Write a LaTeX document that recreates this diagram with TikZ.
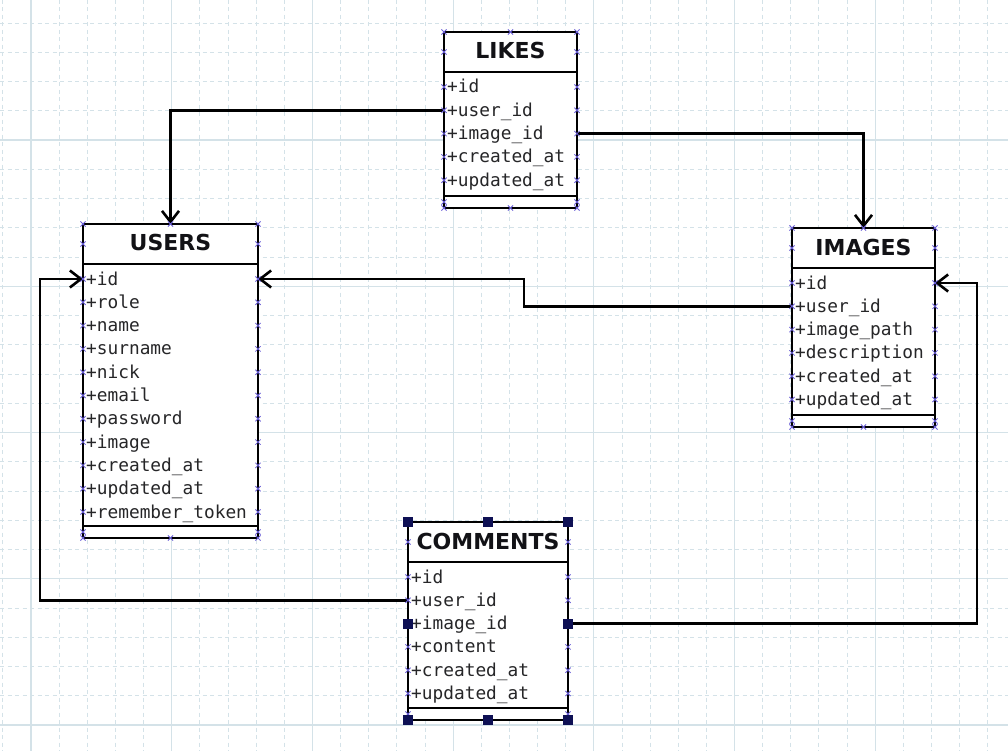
\documentclass[tikz,border=0pt]{standalone}
\usepackage{fontspec}
\setmainfont{DejaVu Sans}
\newfontfamily\fieldfont{DejaVu Sans Mono}
\usetikzlibrary{arrows.meta}

\definecolor{gridc}{RGB}{212,226,232}
\definecolor{pinc}{RGB}{104,92,214}
\definecolor{handlec}{RGB}{14,16,84}
\definecolor{inkc}{RGB}{18,18,22}
\definecolor{fieldc}{RGB}{38,38,40}

\tikzset{
  classbox/.style={draw=black, fill=white, line width=2.8pt, outer sep=0pt, inner sep=0pt},
  divider/.style={line width=2.4pt},
  classtitle/.style={font=\fontsize{22}{22}\selectfont\bfseries, text=inkc, inner sep=0pt, anchor=base},
  field/.style={font=\fieldfont\fontsize{17.8}{18}\selectfont, text=fieldc, inner sep=0pt, anchor=base west},
  link/.style={line width=2.6pt, -{Straight Barb[length=11pt,width=17pt]}},
  pin/.style={draw=pinc, line width=0.8pt},
  handle/.style={fill=handlec, draw=handlec, minimum size=9pt, inner sep=0pt, outer sep=0pt},
  minorgrid/.style={draw=gridc, line width=0.9pt, dash pattern=on 4pt off 3.5pt},
  majorgrid/.style={draw=gridc, line width=1.1pt},
  pinx/.pic={\draw[pin] (-2.6,-2.6) -- (2.6,2.6) (-2.6,2.6) -- (2.6,-2.6);}
}

% \erclass{name}{left}{top}{right}{bottom}{title}{fields}
\newcommand\erclass[7]{%
  \node[classbox, anchor=north west, minimum width={(#4-#2)*1pt},
        minimum height={(#5-#3)*1pt}] (#1) at (#2,#3) {};
  \draw[divider] (#2,#3+40) -- (#4,#3+40);
  \draw[divider] (#2,#5-12) -- (#4,#5-12);
  \node[classtitle] (#1-title) at ({(#2+#4)/2},#3+27) {#6};
  \foreach \f [count=\i] in {#7} {
    \node[field] (#1-f\i) at ({#2+3},{#3+61+23.3*(\i-1)}) {+\f};
    \coordinate (#1-w\i) at (#2,{#3+55+23.3*(\i-1)});
    \coordinate (#1-e\i) at (#4,{#3+55+23.3*(\i-1)});
  }
}

% connection points along the class outline: {left}{top}{right}{bottom}{number of fields}
\newcommand\erpins[5]{%
  \foreach \yy in {#2, #2+20, #4-6, #4}
    \foreach \xx in {#1, #3} \pic at ({\xx},{\yy}) {pinx};
  \foreach \i in {1,...,#5}
    \foreach \xx in {#1, #3} \pic at ({\xx},{#2+55+23.3*(\i-1)}) {pinx};
  \pic at ({(#1+#3)/2},#2) {pinx};
  \pic at ({(#1+#3)/2},#4) {pinx};
}

\begin{document}
\begin{tikzpicture}[x=1pt, y=-1pt]
\useasboundingbox (0,0) rectangle (1008,751);
\fill[white] (0,0) rectangle (1008,751);

% background grid
\begin{scope}
  \clip (0,0) rectangle (1008,751);
  \foreach \k in {-1,...,35}
    \draw[minorgrid] ({31+28.14*\k},0) -- ({31+28.14*\k},751);
  \foreach \k in {-5,...,21}
    \draw[minorgrid] (0,{140+29.25*\k}) -- (1008,{140+29.25*\k});
  \foreach \k in {0,...,6}
    \draw[majorgrid] ({31+140.7*\k},0) -- ({31+140.7*\k},751);
  \foreach \k in {0,...,4}
    \draw[majorgrid] (0,{140+146.25*\k}) -- (1008,{140+146.25*\k});
\end{scope}

% tables
\erclass{likes}{444}{32}{577}{208}{LIKES}
  {id, user\_id, image\_id, created\_at, updated\_at}
\erclass{users}{83}{224}{258}{538}{USERS}
  {id, role, name, surname, nick, email, password, image, created\_at, updated\_at, remember\_token}
\erclass{images}{792}{228}{935}{427}{IMAGES}
  {id, user\_id, image\_path, description, created\_at, updated\_at}
\erclass{comments}{408}{522}{568}{720}{COMMENTS}
  {id, user\_id, image\_id, content, created\_at, updated\_at}

% relations
\draw[link] (likes-w2) -| (users.north);
\draw[link] (likes-e3) -| (images.north);
\draw[link] (images-w2) -- ++(-268,0) |- (users-e1);
\draw[link] (comments-w2) -- ++(-368,0) |- (users-w1);
\draw[link] (comments-e3) -- ++(409,0) |- (images-e1);

% connection points
\erpins{444}{32}{577}{208}{5}
\erpins{83}{224}{258}{538}{11}
\erpins{792}{228}{935}{427}{6}
\erpins{408}{522}{568}{720}{6}

% selection handles of the comments table
\node[handle] (h-nw) at (comments.north west) {};
\node[handle] (h-n)  at (comments.north) {};
\node[handle] (h-ne) at (comments.north east) {};
\node[handle] (h-sw) at (comments.south west) {};
\node[handle] (h-s)  at (comments.south) {};
\node[handle] (h-se) at (comments.south east) {};
\node[handle] (h-w)  at (comments-w3) {};
\node[handle] (h-e)  at (comments-e3) {};
\end{tikzpicture}
\end{document}
